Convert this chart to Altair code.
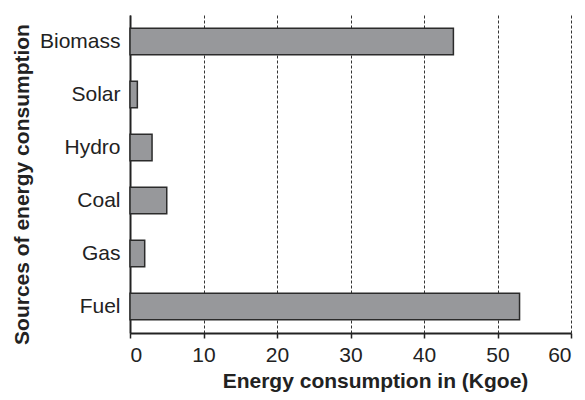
import altair as alt
import pandas as pd

sources = ["Biomass", "Solar", "Hydro", "Coal", "Gas", "Fuel"]
consumption = [44, 1, 3, 5, 2, 53]
x_ticks = [0, 10, 20, 30, 40, 50, 60]

df = pd.DataFrame({"source": sources, "value": consumption})

FONT = "Liberation Sans"

chart = alt.Chart(df).mark_bar(
    color="#97989b", stroke="#2b2b2b", strokeWidth=1.5
).encode(
    y=alt.Y(
        "source:N",
        sort=sources,
        scale=alt.Scale(paddingInner=0.5, paddingOuter=0.25),
        axis=alt.Axis(
            title="Sources of energy consumption",
            titleFont=FONT, titleFontSize=21, titleFontWeight="bold", titleColor="#222",
            titleAngle=-90, titleX=-102, titleY=169, titleAlign="center", titleBaseline="alphabetic",
            labelFont=FONT, labelFontSize=21, labelColor="#222", labelPadding=10,
            ticks=False, domainColor="#222", domainWidth=2, grid=False,
        ),
    ),
    x=alt.X(
        "value:Q",
        scale=alt.Scale(domain=[0, 60], nice=False),
        axis=alt.Axis(
            title="Energy consumption in (Kgoe)",
            values=x_ticks,
            titleFont=FONT, titleFontSize=21, titleFontWeight="bold", titleColor="#222",
            titleX=245, titleY=54, titleAlign="center", titleBaseline="alphabetic",
            labelFont=FONT, labelFontSize=21, labelColor="#222", labelPadding=6,
            tickSize=5, tickColor="#222", tickWidth=1.5,
            domainColor="#222", domainWidth=2,
            grid=True, gridColor="#333", gridDash=[3, 2], gridWidth=1,
        ),
    ),
).properties(
    width=441,
    height=318,
    autosize=alt.AutoSizeParams(type="none"),
    padding={"left": 122, "top": 7, "right": 6, "bottom": 59},
).configure_view(stroke=None)

chart.save("out.html", embed_options={"renderer": "svg", "actions": False})
